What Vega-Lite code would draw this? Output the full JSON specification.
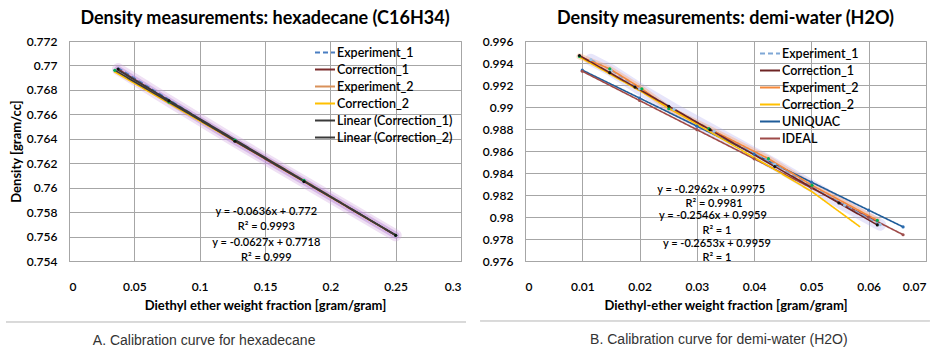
{
  "$schema": "https://vega.github.io/schema/vega-lite/v6.json",
  "background": "#ffffff",
  "padding": {"left": 5, "top": 9, "right": 0, "bottom": 0},
  "spacing": 12,
  "datasets": {
    "hex": [
      {"series": "Experiment_1", "x": 0.0375, "y": 0.7698},
      {"series": "Experiment_1", "x": 0.0765, "y": 0.7672},
      {"series": "Experiment_1", "x": 0.127, "y": 0.7638},
      {"series": "Experiment_1", "x": 0.1798, "y": 0.7606},
      {"series": "Experiment_1", "x": 0.25, "y": 0.7561},
      {"series": "Experiment_2", "x": 0.035, "y": 0.7696},
      {"series": "Experiment_2", "x": 0.0765, "y": 0.767},
      {"series": "Experiment_2", "x": 0.127, "y": 0.7639},
      {"series": "Experiment_2", "x": 0.1798, "y": 0.7606},
      {"series": "Experiment_2", "x": 0.25, "y": 0.7561},
      {"series": "Correction_2", "x": 0.0345, "y": 0.7695},
      {"series": "Correction_2", "x": 0.0765, "y": 0.7669},
      {"series": "Correction_2", "x": 0.127, "y": 0.7638},
      {"series": "Correction_2", "x": 0.1798, "y": 0.7605},
      {"series": "Correction_2", "x": 0.25, "y": 0.7561},
      {"series": "Correction_1", "x": 0.0375, "y": 0.7697},
      {"series": "Correction_1", "x": 0.0765, "y": 0.7671},
      {"series": "Correction_1", "x": 0.127, "y": 0.7638},
      {"series": "Correction_1", "x": 0.1798, "y": 0.7605},
      {"series": "Correction_1", "x": 0.25, "y": 0.7561},
      {"series": "Linear (Correction_1)", "x": 0.0375, "y": 0.76962},
      {"series": "Linear (Correction_1)", "x": 0.25, "y": 0.7561},
      {"series": "Linear (Correction_2)", "x": 0.0345, "y": 0.76964},
      {"series": "Linear (Correction_2)", "x": 0.25, "y": 0.75613}
    ],
    "hexFits": [
      {"label": "y = -0.0636x + 0.772", "x": 0.151, "y": 0.758},
      {"label": "R² = 0.9993", "x": 0.151, "y": 0.75678},
      {"label": "y = -0.0627x + 0.7718", "x": 0.151, "y": 0.75547},
      {"label": "R² = 0.999", "x": 0.151, "y": 0.75424}
    ],
    "h2o": [
      {"series": "UNIQUAC", "x": 0.01, "y": 0.99335},
      {"series": "UNIQUAC", "x": 0.02, "y": 0.99081},
      {"series": "UNIQUAC", "x": 0.03, "y": 0.98826},
      {"series": "UNIQUAC", "x": 0.04, "y": 0.98572},
      {"series": "UNIQUAC", "x": 0.05, "y": 0.98317},
      {"series": "UNIQUAC", "x": 0.06, "y": 0.98062},
      {"series": "UNIQUAC", "x": 0.066, "y": 0.9791},
      {"series": "IDEAL", "x": 0.01, "y": 0.99325},
      {"series": "IDEAL", "x": 0.02, "y": 0.99059},
      {"series": "IDEAL", "x": 0.03, "y": 0.98794},
      {"series": "IDEAL", "x": 0.04, "y": 0.98529},
      {"series": "IDEAL", "x": 0.05, "y": 0.98264},
      {"series": "IDEAL", "x": 0.06, "y": 0.97998},
      {"series": "IDEAL", "x": 0.066, "y": 0.97839},
      {"series": "Experiment_1", "x": 0.0115, "y": 0.9943},
      {"series": "Experiment_1", "x": 0.015, "y": 0.99335},
      {"series": "Experiment_1", "x": 0.02, "y": 0.99165},
      {"series": "Experiment_1", "x": 0.026, "y": 0.9898},
      {"series": "Experiment_1", "x": 0.033, "y": 0.9878},
      {"series": "Experiment_1", "x": 0.0436, "y": 0.98478},
      {"series": "Experiment_1", "x": 0.0558, "y": 0.98107},
      {"series": "Experiment_1", "x": 0.062, "y": 0.9793},
      {"series": "Experiment_2", "x": 0.0095, "y": 0.9946},
      {"series": "Experiment_2", "x": 0.0148, "y": 0.99347},
      {"series": "Experiment_2", "x": 0.0204, "y": 0.99166},
      {"series": "Experiment_2", "x": 0.0251, "y": 0.98985},
      {"series": "Experiment_2", "x": 0.0321, "y": 0.98804},
      {"series": "Experiment_2", "x": 0.0425, "y": 0.9853},
      {"series": "Experiment_2", "x": 0.0501, "y": 0.98288},
      {"series": "Experiment_2", "x": 0.0615, "y": 0.9797},
      {"series": "Correction_2", "x": 0.0095, "y": 0.99455},
      {"series": "Correction_2", "x": 0.0148, "y": 0.993},
      {"series": "Correction_2", "x": 0.0204, "y": 0.99137},
      {"series": "Correction_2", "x": 0.0251, "y": 0.9899},
      {"series": "Correction_2", "x": 0.0321, "y": 0.9878},
      {"series": "Correction_2", "x": 0.0425, "y": 0.98465},
      {"series": "Correction_2", "x": 0.0501, "y": 0.9823},
      {"series": "Correction_2", "x": 0.0585, "y": 0.9791},
      {"series": "Correction_1", "x": 0.0095, "y": 0.99468},
      {"series": "Correction_1", "x": 0.0148, "y": 0.99312},
      {"series": "Correction_1", "x": 0.0192, "y": 0.99181},
      {"series": "Correction_1", "x": 0.0251, "y": 0.99007},
      {"series": "Correction_1", "x": 0.0323, "y": 0.98793},
      {"series": "Correction_1", "x": 0.0436, "y": 0.98459},
      {"series": "Correction_1", "x": 0.0548, "y": 0.98127},
      {"series": "Correction_1", "x": 0.0615, "y": 0.97928}
    ],
    "h2oFits": [
      {"label": "y = -0.2962x + 0.9975", "x": 0.0325, "y": 0.98243},
      {"label": "R² = 0.9981", "x": 0.033, "y": 0.98116},
      {"label": "y = -0.2546x + 0.9959", "x": 0.0328, "y": 0.98007},
      {"label": "R² = 1", "x": 0.0335, "y": 0.97871},
      {"label": "y = -0.2653x + 0.9959", "x": 0.0335, "y": 0.97754},
      {"label": "R² = 1", "x": 0.0335, "y": 0.97627}
    ]
  },
  "hconcat": [
    {
      "title": {"text": "A. Calibration curve for hexadecane", "orient": "bottom", "anchor": "middle", "frame": "bounds", "dx": -32, "offset": 11, "font": "Liberation Sans", "fontSize": 14, "fontWeight": "normal", "color": "#333333"},
      "vconcat": [
        {
          "width": 392,
          "height": 220,
          "title": {"text": "Density measurements: hexadecane (C16H34)", "anchor": "middle", "frame": "group", "offset": 7, "font": "Lato", "fontSize": 18, "fontWeight": "bold", "color": "#000000"},
          "data": {"name": "hex"},
          "encoding": {
            "x": {
              "field": "x", "type": "quantitative",
              "scale": {"domain": [0, 0.3], "nice": false, "zero": false},
              "axis": {"values": [0, 0.05, 0.1, 0.15, 0.2, 0.25, 0.3], "format": ".2~f", "labelOverlap": false, "title": "Diethyl ether weight fraction [gram/gram]", "titlePadding": 7}
            },
            "y": {
              "field": "y", "type": "quantitative",
              "scale": {"domain": [0.754, 0.772], "nice": false, "zero": false},
              "axis": {"values": [0.754, 0.756, 0.758, 0.76, 0.762, 0.764, 0.766, 0.768, 0.77, 0.772], "format": ".3~f", "labelOverlap": false, "labelAlign": "right", "labelPadding": 12, "title": "Density [gram/cc]", "titlePadding": 3}
            }
          },
          "layer": [
            {
              "transform": [{"filter": "datum.series === 'Correction_1'"}],
              "mark": {"type": "line", "color": "#D2A6E0", "strokeWidth": 12, "opacity": 0.35, "strokeCap": "round"}
            },
            {
              "transform": [{"filter": "datum.series === 'Correction_1'"}],
              "mark": {"type": "line", "color": "#B581D4", "strokeWidth": 7, "opacity": 0.45, "strokeCap": "round"}
            },
            {
              "mark": {"type": "line", "strokeWidth": 1.6},
              "encoding": {
                "color": {
                  "field": "series", "type": "nominal",
                  "scale": {
                    "domain": ["Experiment_1", "Correction_1", "Experiment_2", "Correction_2", "Linear (Correction_1)", "Linear (Correction_2)"],
                    "range": ["#4A7EC2", "#7B2C2C", "#D9915A", "#FFC000", "#3A3A3A", "#3A3A3A"]
                  },
                  "legend": {"orient": "none", "legendX": 245, "legendY": 3}
                },
                "strokeDash": {
                  "field": "series", "type": "nominal",
                  "scale": {
                    "domain": ["Experiment_1", "Correction_1", "Experiment_2", "Correction_2", "Linear (Correction_1)", "Linear (Correction_2)"],
                    "range": [[5, 3], [1, 0], [1, 0], [1, 0], [1, 0], [1, 0]]
                  },
                  "legend": {"orient": "none", "legendX": 245, "legendY": 3}
                }
              }
            },
            {
              "transform": [{"filter": "datum.series === 'Correction_1' || datum.series === 'Experiment_2'"}],
              "mark": {"type": "circle", "size": 10, "opacity": 1},
              "encoding": {
                "fill": {
                  "field": "series", "type": "nominal",
                  "scale": {"domain": ["Correction_1", "Experiment_2"], "range": ["#111111", "#00B050"]},
                  "legend": null
                }
              }
            },
            {
              "data": {"name": "hexFits"},
              "mark": {"type": "text", "font": "Lato", "fontSize": 11, "fontWeight": 600, "color": "#000000", "align": "center", "baseline": "middle"},
              "encoding": {
                "text": {"field": "label"}
              }
            },
            {
              "mark": {"type": "rule", "color": "#D9D9D9", "strokeWidth": 1},
              "encoding": {
                "x": {"datum": -0.048},
                "x2": {"datum": 0.3038},
                "y": {"datum": 0.749}
              }
            }
          ]
        }
      ]
    },
    {
      "title": {"text": "B. Calibration curve for demi-water (H2O)", "orient": "bottom", "anchor": "middle", "frame": "bounds", "dx": 14, "offset": 11, "font": "Liberation Sans", "fontSize": 14, "fontWeight": "normal", "color": "#333333"},
      "vconcat": [
        {
          "width": 401,
          "height": 220,
          "title": {"text": "Density measurements: demi-water (H2O)", "anchor": "middle", "frame": "group", "offset": 7, "font": "Lato", "fontSize": 18, "fontWeight": "bold", "color": "#000000"},
          "data": {"name": "h2o"},
          "encoding": {
            "x": {
              "field": "x", "type": "quantitative",
              "scale": {"domain": [0, 0.07], "nice": false, "zero": false},
              "axis": {"values": [0, 0.01, 0.02, 0.03, 0.04, 0.05, 0.06, 0.07], "format": ".2~f", "labelOverlap": false, "title": "Diethyl-ether  weight fraction  [gram/gram]", "titlePadding": 7}
            },
            "y": {
              "field": "y", "type": "quantitative",
              "scale": {"domain": [0.976, 0.996], "nice": false, "zero": false},
              "axis": {"values": [0.976, 0.978, 0.98, 0.982, 0.984, 0.986, 0.988, 0.99, 0.992, 0.994, 0.996], "format": ".3~f", "labelOverlap": false, "labelAlign": "right", "labelPadding": 12, "title": null}
            }
          },
          "layer": [
            {
              "transform": [{"filter": "datum.series === 'Experiment_1'"}],
              "mark": {"type": "line", "color": "#B0A8F0", "strokeWidth": 12, "opacity": 0.3, "strokeCap": "round"}
            },
            {
              "transform": [{"filter": "datum.series === 'Experiment_2'"}],
              "mark": {"type": "line", "color": "#F8A878", "strokeWidth": 6, "opacity": 0.4, "strokeCap": "round"}
            },
            {
              "mark": {"type": "line", "strokeWidth": 1.6},
              "encoding": {
                "color": {
                  "field": "series", "type": "nominal",
                  "scale": {
                    "domain": ["Experiment_1", "Correction_1", "Experiment_2", "Correction_2", "UNIQUAC", "IDEAL"],
                    "range": ["#7FA7D6", "#6E2424", "#F5883A", "#FFC000", "#1F5C99", "#9E4A48"]
                  },
                  "legend": {"orient": "none", "legendX": 234, "legendY": 4}
                },
                "strokeDash": {
                  "field": "series", "type": "nominal",
                  "scale": {
                    "domain": ["Experiment_1", "Correction_1", "Experiment_2", "Correction_2", "UNIQUAC", "IDEAL"],
                    "range": [[5, 3], [1, 0], [1, 0], [1, 0], [1, 0], [1, 0]]
                  },
                  "legend": {"orient": "none", "legendX": 234, "legendY": 4}
                }
              }
            },
            {
              "transform": [{"filter": "datum.series !== 'Correction_2'"}],
              "mark": {"type": "circle", "size": 10, "opacity": 1},
              "encoding": {
                "fill": {
                  "field": "series", "type": "nominal",
                  "scale": {"domain": ["Experiment_1", "Correction_1", "Experiment_2", "UNIQUAC", "IDEAL"], "range": ["#9CC3E6", "#111111", "#00B050", "#2A6CB0", "#A0504E"]},
                  "legend": null
                }
              }
            },
            {
              "data": {"name": "h2oFits"},
              "mark": {"type": "text", "font": "Lato", "fontSize": 11, "fontWeight": 600, "color": "#000000", "align": "center", "baseline": "middle"},
              "encoding": {
                "text": {"field": "label"}
              }
            },
            {
              "mark": {"type": "rule", "color": "#D9D9D9", "strokeWidth": 1},
              "encoding": {
                "x": {"datum": -0.0078},
                "x2": {"datum": 0.0706},
                "y": {"datum": 0.97057}
              }
            }
          ]
        }
      ]
    }
  ],
  "resolve": {"scale": {"color": "independent", "strokeDash": "independent", "fill": "independent"}},
  "config": {
    "view": {"stroke": "#A6A6A6", "strokeWidth": 1},
    "font": "Lato",
    "axis": {
      "grid": true,
      "gridColor": "#A6A6A6",
      "gridOpacity": 1,
      "domainColor": "#A6A6A6",
      "ticks": false,
      "labelOverlap": false,
      "labelFont": "Lato",
      "labelFontSize": 12,
      "labelFontWeight": 600,
      "labelColor": "#000000",
      "titleFont": "Lato",
      "titleFontSize": 13,
      "titleFontWeight": "bold",
      "titleColor": "#000000"
    },
    "axisX": {"labelPadding": 25, "labelBaseline": "middle"},
    "legend": {
      "title": null,
      "symbolType": "stroke",
      "symbolSize": 400,
      "symbolStrokeWidth": 2,
      "clipHeight": 17,
      "rowPadding": 0,
      "padding": 0,
      "labelOffset": 1,
      "labelFont": "Lato",
      "labelFontSize": 12.5,
      "labelFontWeight": 600,
      "labelColor": "#000000"
    }
  }
}
